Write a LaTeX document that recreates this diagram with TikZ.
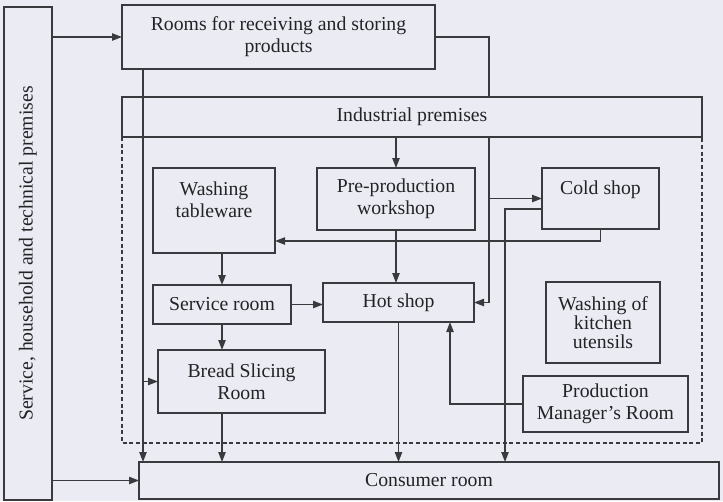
\documentclass[tikz,border=0pt]{standalone}
\usepackage{fontspec}
\setmainfont{Liberation Serif}
\usetikzlibrary{arrows.meta,calc}
\definecolor{paper}{RGB}{235,235,243}
\definecolor{ink}{RGB}{58,58,62}
\definecolor{txt}{RGB}{35,35,38}
\begin{document}
\begin{tikzpicture}[x=0.75pt,y=0.75pt,yscale=-1,xscale=1,
    room/.style={draw=ink,line width=1pt,outer sep=0pt,inner sep=0pt,align=center,text=txt,
      font=\fontsize{14.8}{16.5}\selectfont},
    link/.style={draw=ink,line width=1pt},
    arr/.style={link,-{Triangle[length=7.5pt,width=5.5pt]}},
    zone/.style={draw=ink,line width=1pt,dash pattern=on 3pt off 2pt}]
\useasboundingbox [fill=paper] (0,0) rectangle (723,501);

%Shape: Rectangle
\node [room,minimum width={48*0.75pt},minimum height={493*0.75pt}] (serv) at (28,253.5) {\rotatebox{90}{Service, household and technical premises}};
%Shape: Rectangle
\node [room,minimum width={313*0.75pt},minimum height={64*0.75pt}] (recv) at (278.5,37) {Rooms for receiving and storing\\products};
%Shape: Rectangle
\node [room,minimum width={580*0.75pt},minimum height={40*0.75pt}] (indus) at (412,117) {Industrial premises};
%Shape: Rectangle
\node [room,minimum width={122*0.75pt},minimum height={85*0.75pt}] (wash) at (214,210.5) {Washing\\tableware\\~};
%Shape: Rectangle
\node [room,minimum width={158*0.75pt},minimum height={62*0.75pt}] (pre) at (396,199) {Pre-production\\workshop};
%Shape: Rectangle
\node [room,minimum width={117*0.75pt},minimum height={61*0.75pt}] (cold) at (600.5,198.5) {Cold shop\\~};
%Shape: Rectangle
\node [room,minimum width={138*0.75pt},minimum height={39*0.75pt}] (servr) at (222,304.5) {Service room};
%Shape: Rectangle
\node [room,minimum width={151*0.75pt},minimum height={39*0.75pt}] (hot) at (398.5,302.5) {Hot shop};
%Shape: Rectangle
\node [room,minimum width={167*0.75pt},minimum height={63*0.75pt}] (bread) at (241.5,381.5) {Bread Slicing\\Room};
%Shape: Rectangle
\node [room,minimum width={114*0.75pt},minimum height={81*0.75pt},font=\fontsize{14.8}{14}\selectfont] (kitu) at (603,322.5) {Washing of\\kitchen\\utensils};
%Shape: Rectangle
\node [room,minimum width={165*0.75pt},minimum height={56*0.75pt}] (prodm) at (605.5,404) {Production\\Manager's Room};
%Shape: Rectangle
\node [room,minimum width={580*0.75pt},minimum height={37*0.75pt}] (cons) at (429,480.5) {Consumer room};

%Dashed zone
\draw [zone] (indus.south west) -- ++(0,306) -| (indus.south east);

%Straight Lines
\coordinate (feed) at ($(recv.south west)+(21,0)$);
\coordinate (supply) at ($(indus.north west)+(367,0)$);
\draw [arr] (serv.east |- recv.west) -- (recv.west);
\draw [arr] (serv.east |- cons.west) -- (cons.west);
\draw [arr] (feed) -- (feed |- cons.north);
\draw [arr] (feed |- bread.west) -- (bread.west);
\draw [link] (recv.east) -| (supply);
\draw [arr] (supply |- indus.south) |- (hot.east);
\draw [arr] (supply |- cold.west) -- (cold.west);
\draw [arr] (pre.north |- indus.south) -- (pre.north);
\draw [arr] (pre.south) -- (pre.south |- hot.north);
\draw [arr] (hot.south) -- (hot.south |- cons.north);
\draw [arr] (servr.north |- wash.south) -- (servr.north);
\draw [arr] (servr.south) -- (servr.south |- bread.north);
\draw [arr] (servr.south |- bread.south) -- (servr.south |- cons.north);
\draw [arr] (servr.east) -- (servr.east -| hot.west);
\draw [arr] (cold.south) |- ($(wash.south east)+(0,-12)$);
\draw [arr] ($(cold.west)+(0,10.5)$) -| ($(cons.north west)+(366,0)$);
\draw [arr] (prodm.west) -| ($(hot.south west)+(127,0)$);
\end{tikzpicture}
\end{document}
